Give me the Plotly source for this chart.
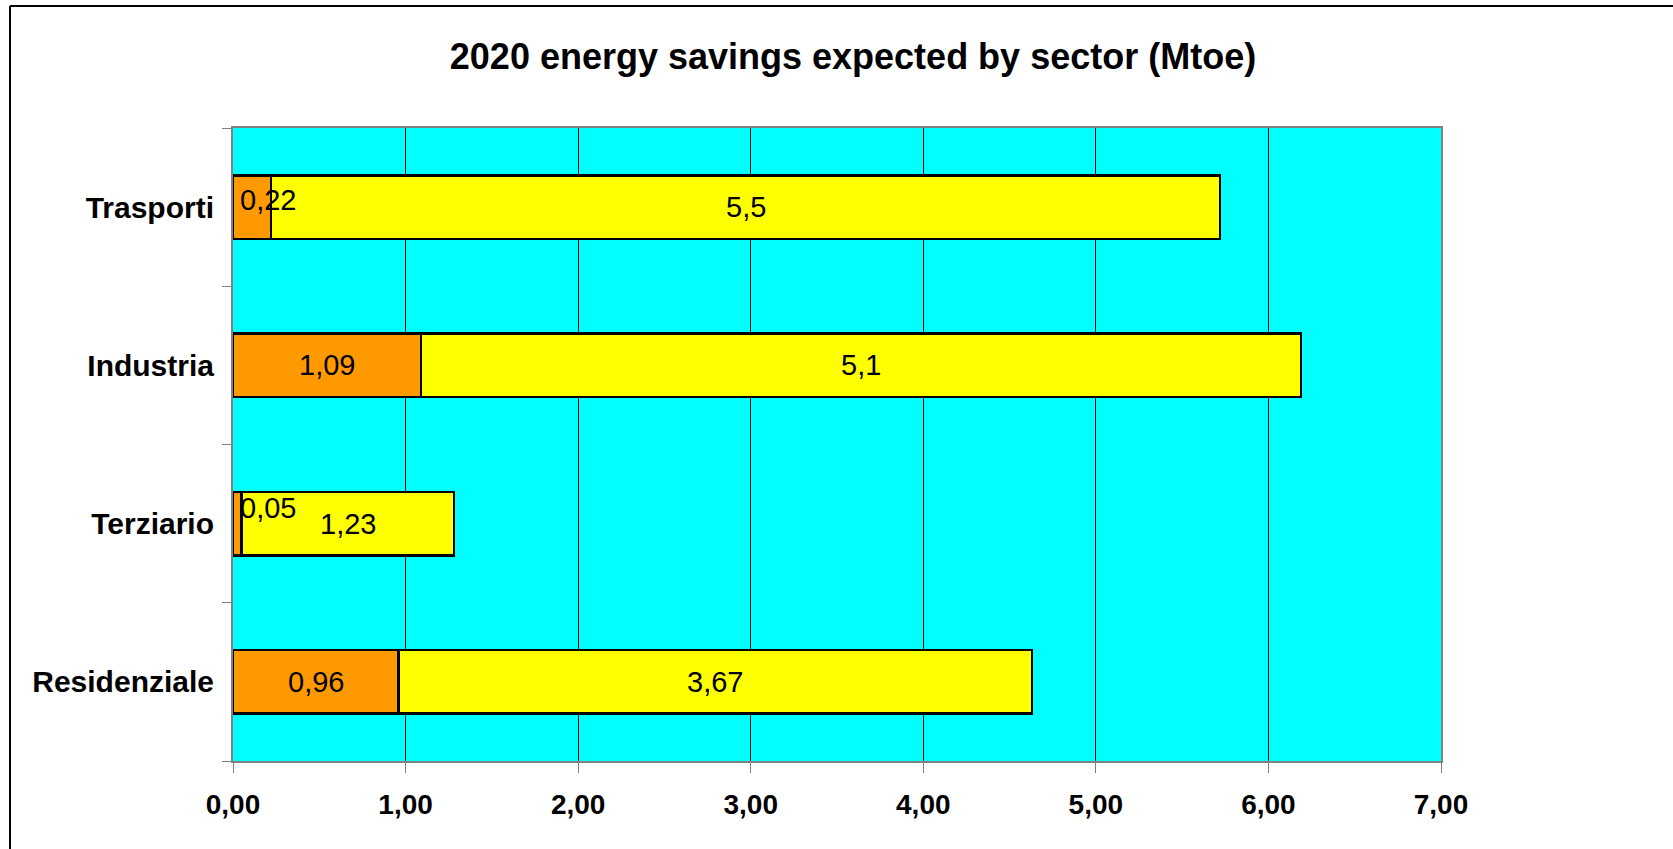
import plotly.graph_objects as go

# ---- data ----
categories = ["Residenziale", "Terziario", "Industria", "Trasporti"]
series_a = [0.96, 0.05, 1.09, 0.22]   # orange segment
series_b = [3.67, 1.23, 5.1, 5.5]     # yellow segment
label_a = ["0,96", "0,05", "1,09", "0,22"]
label_b = ["3,67", "1,23", "5,1", "5,5"]
x_ticks = [0, 1, 2, 3, 4, 5, 6, 7]
x_tick_labels = ["0,00", "1,00", "2,00", "3,00", "4,00", "5,00", "6,00", "7,00"]
title_text = "2020 energy savings expected by sector (Mtoe)"

# ---- style ----
W, H = 1673, 849
L, R, T, B = 233, 1441, 128, 761
FONT = "Arial, Liberation Sans, sans-serif"
narrow_yshift = {"Terziario": 16, "Trasporti": 7}

fig = go.Figure()
fig.add_trace(go.Bar(y=categories, x=series_a, orientation="h",
                     marker=dict(color="#FF9900", line=dict(color="black", width=2.5)),
                     hoverinfo="x+y", name="a"))
fig.add_trace(go.Bar(y=categories, x=series_b, orientation="h",
                     marker=dict(color="#FFFF00", line=dict(color="black", width=2.5)),
                     hoverinfo="x+y", name="b"))

px_per_unit = (R - L) / 7.0
annotations = []
for i, cat in enumerate(categories):
    starts = [0, series_a[i]]
    vals = [series_a[i], series_b[i]]
    labs = [label_a[i], label_b[i]]
    for s, v, lab in zip(starts, vals, labs):
        text_w = len(lab) * 0.5 * 29
        if v * px_per_unit < text_w + 6:
            annotations.append(dict(x=s, y=cat, text=lab, showarrow=False,
                                    xanchor="left", xshift=5,
                                    yshift=narrow_yshift.get(cat, 8),
                                    font=dict(family=FONT, size=29, color="black")))
        else:
            annotations.append(dict(x=s + v / 2, y=cat, text=lab, showarrow=False,
                                    xanchor="center",
                                    font=dict(family=FONT, size=29, color="black")))

pw, ph = R - L, B - T
shapes = [
    dict(type="line", xref="paper", yref="paper",
         x0=(10 - L) / pw, x1=(W + 40 - L) / pw, y0=(B - 6) / ph, y1=(B - 6) / ph,
         line=dict(color="black", width=2)),
    dict(type="line", xref="paper", yref="paper",
         x0=(10 - L) / pw, x1=(10 - L) / pw, y0=(B - 6) / ph, y1=-(H + 40 - B) / ph,
         line=dict(color="black", width=2)),
]

fig.update_layout(
    width=W, height=H,
    margin=dict(l=L, r=W - R, t=T, b=H - B, pad=0),
    barmode="stack", bargap=0.6,
    showlegend=False,
    paper_bgcolor="white", plot_bgcolor="#00FFFF",
    title=dict(text="<b>" + title_text + "</b>", x=853 / W, xanchor="center",
               y=1 - 56 / H, yanchor="middle", yref="container",
               font=dict(family=FONT, size=36, color="black")),
    font=dict(family=FONT, color="black"),
    annotations=annotations, shapes=shapes,
    xaxis=dict(range=[0, 7], tickvals=x_ticks, ticktext=["<b>" + t + "</b>" for t in x_tick_labels],
               showgrid=True, gridcolor="black", gridwidth=1, zeroline=False,
               showline=True, linecolor="#808080", linewidth=2, mirror=True,
               ticks="outside", ticklen=10, tickcolor="#808080", tickwidth=1,
               tickfont=dict(family=FONT, size=28, color="black"),
               ticklabelstandoff=7, fixedrange=True),
    yaxis=dict(categoryorder="array", categoryarray=categories,
               ticktext=["<b>" + c + "</b>" for c in categories], tickvals=categories,
               tickson="boundaries", ticks="outside", ticklen=9, tickcolor="#808080", tickwidth=1,
               showgrid=False, zeroline=False,
               showline=True, linecolor="#808080", linewidth=2, mirror=True,
               tickfont=dict(family=FONT, size=30, color="black"),
               ticklabelstandoff=11, fixedrange=True),
)

fig.write_html("out.html", config={"displayModeBar": False},
               post_script="document.body.style.margin='0';document.body.style.overflow='hidden';")
